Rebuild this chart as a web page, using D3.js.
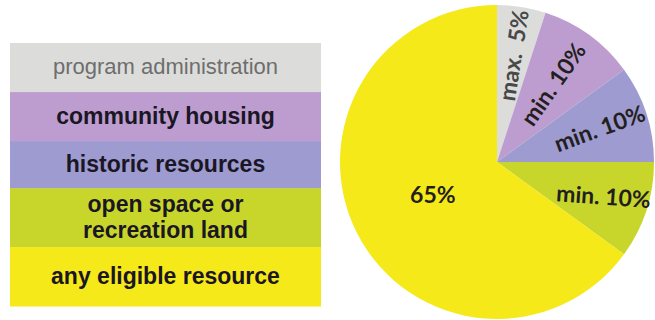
<!DOCTYPE html>
<html>
<head>
<meta charset="utf-8">
<script src="https://cdn.jsdelivr.net/npm/d3@7"></script>
<style>
  html, body { margin: 0; padding: 0; background: #ffffff; }
  svg { display: block; }
</style>
</head>
<body>
<svg id="chart" width="655" height="320"></svg>
<script>
// Budget shares by spending category
const categories = ["program administration", "community housing", "historic resources", "open space or recreation land", "any eligible resource"];
const legendLines = [["program administration"], ["community housing"], ["historic resources"], ["open space or", "recreation land"], ["any eligible resource"]];
const shares = [5, 10, 10, 10, 65];
const sliceLabels = ["max.\u00a0\u00a05%", "min. 10%", "min. 10%", "min. 10%", "65%"];
const colors = ["#dcdcda", "#bd9dd0", "#9d9bd0", "#c8d62c", "#f5e91a"];
const legendRowWeights = [1, 1, 0.96, 1.2, 1.2];

const svg = d3.select("#chart");

// ---- Legend panel ----
const legendX = 10, legendW = 311, legendTop = 43, legendBottom = 306;
const totalW = d3.sum(legendRowWeights);
const rowY = d3.scaleLinear().domain([0, totalW]).range([legendTop, legendBottom]);
let acc = 0;
const rows = categories.map((c, i) => {
  const y0 = rowY(acc); acc += legendRowWeights[i]; const y1 = rowY(acc);
  return { c, i, y0, y1 };
});

const leg = svg.append("g");
leg.selectAll("rect").data(rows).join("rect")
  .attr("x", legendX).attr("width", legendW)
  .attr("y", d => d.y0).attr("height", d => d.y1 - d.y0 + 0.5)
  .attr("fill", d => colors[d.i]);

const lineH = 26;
leg.selectAll("text").data(rows).join("text")
  .attr("x", legendX + legendW / 2)
  .attr("text-anchor", "middle")
  .attr("font-family", "'Liberation Sans', Arial, sans-serif")
  .attr("font-size", d => d.i === 0 ? 22 : 23)
  .attr("font-weight", d => d.i === 0 ? "normal" : "bold")
  .attr("fill", d => d.i === 0 ? "#6e6e6e" : "#1b1624")
  .each(function(d) {
    const lines = legendLines[d.i];
    const mid = (d.y0 + d.y1) / 2 - 1;
    const start = mid - (lines.length - 1) * lineH / 2;
    d3.select(this).selectAll("tspan").data(lines).join("tspan")
      .attr("x", legendX + legendW / 2)
      .attr("y", (t, k) => start + k * lineH)
      .attr("dy", "0.35em")
      .text(t => t);
  });

// ---- Pie ----
const cx = 497, cy = 162, r = 157;
const pie = d3.pie().sort(null).value(d => d)(shares);
const arc = d3.arc().innerRadius(0).outerRadius(r);

const g = svg.append("g").attr("transform", `translate(${cx},${cy})`);
g.selectAll("path").data(pie).join("path")
  .attr("d", arc)
  .attr("fill", (d, i) => colors[i]);

// label radius and orientation per slice
const labelR = [108, 96, 108, 112, 72];
const labelRot = [-81, -55, -20, 4, 0];
const labelColor = ["#484848", "#231f20", "#231f20", "#231f20", "#231f20"];
g.selectAll("text").data(pie).join("text")
  .attr("transform", (d, i) => {
    const a = (d.startAngle + d.endAngle) / 2;
    const x = Math.sin(a) * labelR[i], y = -Math.cos(a) * labelR[i];
    return `translate(${x},${y}) rotate(${labelRot[i]})`;
  })
  .attr("text-anchor", "middle")
  .attr("dy", "0.35em")
  .attr("font-family", "Lato, 'Open Sans', sans-serif")
  .attr("font-weight", "bold")
  .attr("font-size", 23)
  .attr("fill", (d, i) => labelColor[i])
  .text((d, i) => sliceLabels[i]);
</script>
</body>
</html>
